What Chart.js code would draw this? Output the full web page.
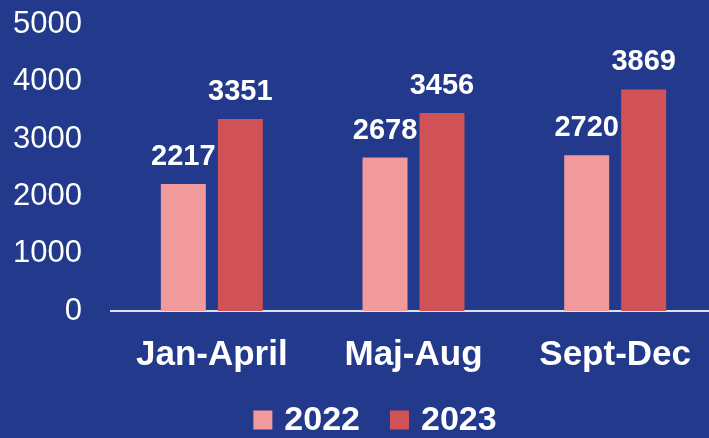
<!DOCTYPE html>
<html>
<head>
<meta charset="utf-8">
<script src="https://cdn.jsdelivr.net/npm/chart.js@4"></script>
<style>
  html, body { margin: 0; padding: 0; background: #22398c; width: 709px; height: 438px; overflow: hidden; position: relative; }
  #wrap { position: absolute; left: 0; top: -15px; width: 716px; height: 453px; }
</style>
</head>
<body>
<div id="wrap"><canvas id="chart"></canvas></div>
<script>
const categories = ["Jan-April", "Maj-Aug", "Sept-Dec"];
const seriesNames = ["2022", "2023"];
const values2022 = [2217, 2678, 2720];
const values2023 = [3351, 3456, 3869];
const yTicks = [0, 1000, 2000, 3000, 4000, 5000];

const FONT = "'Liberation Sans', Arial, sans-serif";

// draw the value above each bar
const barLabels = {
  id: "barLabels",
  afterDatasetsDraw(chart) {
    const ctx = chart.ctx;
    ctx.save();
    ctx.fillStyle = "#ffffff";
    ctx.font = "bold 29px " + FONT;
    ctx.textAlign = "center";
    ctx.textBaseline = "alphabetic";
    chart.data.datasets.forEach((ds, i) => {
      chart.getDatasetMeta(i).data.forEach((bar, j) => {
        ctx.fillText(ds.data[j], bar.x, bar.y - 19);
      });
    });
    ctx.restore();
  }
};

// simple bottom legend: square swatch, small gap, bold year
const bottomLegend = {
  id: "bottomLegend",
  afterDraw(chart) {
    const ctx = chart.ctx;
    const box = 19, gap = 12, itemGap = 30;
    ctx.save();
    ctx.font = "bold 34px " + FONT;
    const items = chart.data.datasets.map(ds => ({
      text: ds.label, color: ds.backgroundColor, w: box + gap + ctx.measureText(ds.label).width
    }));
    const total = items.reduce((s, it) => s + it.w, 0) + itemGap * (items.length - 1);
    let x = chart.width / 2 + 17 - total / 2;
    const cy = chart.height - 18;
    ctx.textBaseline = "middle";
    ctx.textAlign = "left";
    items.forEach(it => {
      ctx.fillStyle = it.color;
      ctx.fillRect(x, cy - box / 2, box, box);
      ctx.fillStyle = "#ffffff";
      ctx.fillText(it.text, x + box + gap, cy + 1);
      x += it.w + itemGap;
    });
    ctx.restore();
  }
};

new Chart(document.getElementById("chart"), {
  type: "bar",
  data: {
    labels: categories,
    datasets: [
      { label: seriesNames[0], data: values2022, backgroundColor: "#f09a9c" },
      { label: seriesNames[1], data: values2023, backgroundColor: "#d05256" }
    ]
  },
  options: {
    responsive: true,
    maintainAspectRatio: false,
    animation: false,
    categoryPercentage: 0.565,
    barPercentage: 0.79,
    layout: { padding: { top: 0, right: 0, left: 0, bottom: 47 } },
    scales: {
      x: {
        grid: { display: false },
        border: { color: "#dde1ec", width: 2 },
        ticks: { color: "#ffffff", font: { family: FONT, size: 35, weight: "bold" }, padding: 15 }
      },
      y: {
        min: 0,
        max: 5000,
        afterBuildTicks: (axis) => { axis.ticks = yTicks.map(v => ({ value: v })); },
        afterFit: (axis) => { axis.width = 111; },
        grid: { display: false },
        border: { display: false },
        ticks: {
          color: "#ffffff",
          font: { family: FONT, size: 31 },
          padding: 21,
          callback: (v) => String(v)
        }
      }
    },
    plugins: {
      legend: { display: false },
      tooltip: { enabled: false }
    }
  },
  plugins: [barLabels, bottomLegend]
});
</script>
</body>
</html>
